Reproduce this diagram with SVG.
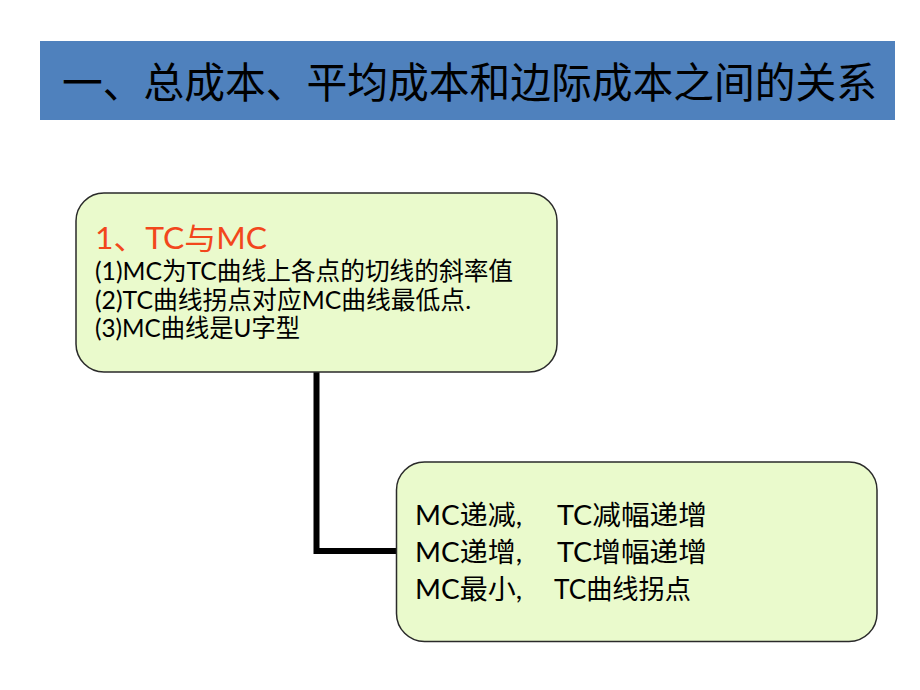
<svg xmlns="http://www.w3.org/2000/svg" width="920" height="690" viewBox="0 0 920 690">
  <style>
    .txt { font-family: Lato, "Noto Sans CJK SC", sans-serif; fill: #000; }
    .box { fill: #EAFACC; stroke: #2a2a2a; stroke-width: 1.5; }
    .conn { fill: none; stroke: #000; stroke-width: 6; stroke-linejoin: miter; }
  </style>
  <rect x="0" y="0" width="920" height="690" fill="#ffffff"/>
  <g id="title">
    <rect x="40" y="41" width="855" height="79" fill="#4F81BD"/>
    <text class="txt" x="62" y="98" font-size="42" font-weight="400" textLength="815" lengthAdjust="spacingAndGlyphs">一、总成本、平均成本和边际成本之间的关系</text>
  </g>
  <g id="connectors">
    <polyline class="conn" points="316.5,372 316.5,551 397,551"/>
  </g>
  <g id="node-tc-mc">
    <rect class="box" x="76" y="193" width="481" height="179" rx="28" ry="28"/>
    <text class="txt" x="95" y="249" font-size="30" style="fill:#F2471C" textLength="172" lengthAdjust="spacingAndGlyphs">1、TC与MC</text>
    <text class="txt" x="95" y="280" font-size="25" textLength="418" lengthAdjust="spacingAndGlyphs">(1)MC为TC曲线上各点的切线的斜率值</text>
    <text class="txt" x="95" y="308.5" font-size="25" textLength="376" lengthAdjust="spacingAndGlyphs">(2)TC曲线拐点对应MC曲线最低点.</text>
    <text class="txt" x="95" y="337" font-size="25" textLength="205" lengthAdjust="spacingAndGlyphs">(3)MC曲线是U字型</text>
  </g>
  <g id="node-relations">
    <rect class="box" x="396.5" y="462" width="480.5" height="179.5" rx="28" ry="28"/>
    <text class="txt" font-size="27" y="525"><tspan x="415" textLength="107" lengthAdjust="spacingAndGlyphs">MC递减,</tspan><tspan x="557" textLength="150" lengthAdjust="spacingAndGlyphs">TC减幅递增</tspan></text>
    <text class="txt" font-size="27" y="562"><tspan x="415" textLength="107" lengthAdjust="spacingAndGlyphs">MC递增,</tspan><tspan x="557" textLength="150" lengthAdjust="spacingAndGlyphs">TC增幅递增</tspan></text>
    <text class="txt" font-size="27" y="598.5"><tspan x="415" textLength="107" lengthAdjust="spacingAndGlyphs">MC最小,</tspan><tspan x="554" textLength="137" lengthAdjust="spacingAndGlyphs">TC曲线拐点</tspan></text>
  </g>
</svg>
